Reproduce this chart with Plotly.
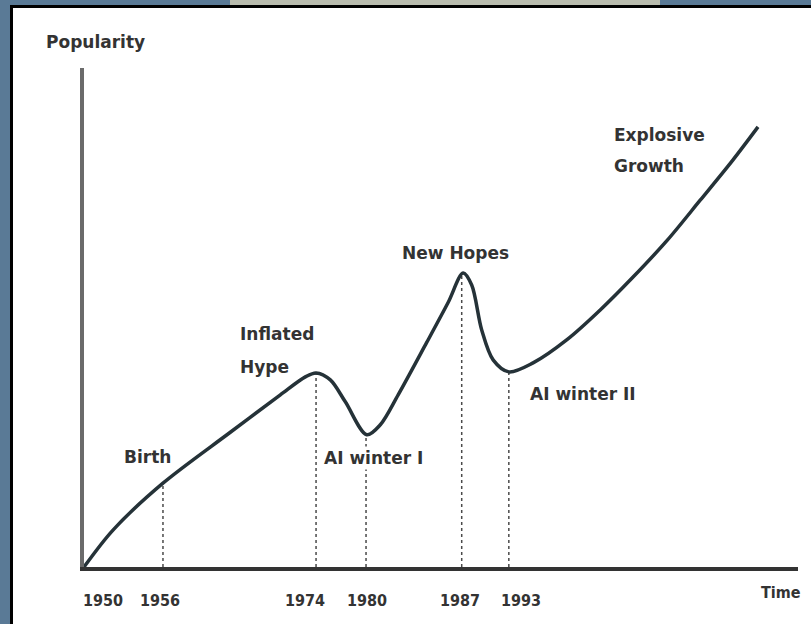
import plotly.graph_objects as go

# ---- data (conceptual time position 0-100, popularity 0-100) ----
curve_x = [0, 4.06, 11.06, 20.4, 27.5, 31.0, 32.5, 34.5, 36.6, 39.6, 41.5, 44.0,
           48.0, 51.0, 53.1, 54.3, 55.7, 57.3, 59.5, 62.9, 67.6, 72.3, 76.9, 81.7,
           86.3, 90.9, 94.4]
curve_y = [0, 7.4, 16.8, 26.9, 34.5, 38.1, 38.9, 37.5, 33.1, 26.5, 28.5, 34.5,
           45.0, 53.0, 58.9, 56.5, 47.5, 41.5, 39.1, 40.9, 45.5, 51.5, 58.1, 65.5,
           73.5, 81.6, 88.2]

event_x = [11.06, 32.5, 39.5, 52.9, 59.5]
event_y = [16.4, 38.9, 26.5, 58.9, 39.1]

year_labels = ["1950", "1956", "1974", "1980", "1987", "1993"]
year_pos = [2.66, 10.64, 30.95, 39.64, 52.66, 61.2]

phase_text = ["Birth", "Inflated", "Hype", "AI winter I", "New Hopes",
              "AI winter II", "Explosive", "Growth"]
phase_x = [8.96, 21.6, 21.6, 33.3, 44.3, 62.2, 73.9, 73.9]
phase_y = [22.0, 46.7, 40.1, 21.8, 62.9, 34.7, 86.6, 80.4]
phase_anchor = ["center", "left", "left", "left", "left", "left", "left", "left"]

LABEL_FONT = dict(family="DejaVu Sans", size=17, color="#333333", weight="bold")
NARROW_FONT = dict(family="DejaVu Sans Condensed, DejaVu Sans", size=16,
                   color="#333333", weight="bold")

fig = go.Figure()

# dotted guide lines for each event
for ex, ey in zip(event_x, event_y):
    fig.add_trace(go.Scatter(x=[ex, ex], y=[0, ey], mode="lines",
                             line=dict(color="#4a4a4a", width=1.5, dash="3px,3px"),
                             hoverinfo="skip", showlegend=False))

# main curve
fig.add_trace(go.Scatter(x=curve_x, y=curve_y, mode="lines",
                         line=dict(color="#253238", width=3.5, shape="spline", smoothing=0.9),
                         hoverinfo="skip", showlegend=False))

annotations = []
for t, x, y, a in zip(phase_text, phase_x, phase_y, phase_anchor):
    annotations.append(dict(x=x, y=y, xref="x", yref="y", text=t, showarrow=False,
                            xanchor=a, yanchor="middle", font=LABEL_FONT,
                            bgcolor="white" if t == "AI winter I" else None))
annotations.append(dict(x=(95 - 84) / 714, y=(567 - 42) / 499, xref="paper", yref="paper",
                        text="Popularity", showarrow=False, xanchor="center",
                        yanchor="middle", font=LABEL_FONT))
annotations.append(dict(x=(781 - 84) / 714, y=(567 - 592) / 499, xref="paper", yref="paper",
                        text="Time", showarrow=False, xanchor="center", yanchor="middle",
                        font=NARROW_FONT))

shapes = [
    # light patch of the blurred photo along the top strip
    dict(type="rect", xref="paper", yref="paper", x0=(230 - 84) / 714, x1=(660 - 84) / 714,
         y0=(567 - 6) / 499, y1=(567 + 5) / 499, fillcolor="#b9bcae",
         line=dict(width=0), layer="below"),
    # white board with black frame
    dict(type="rect", xref="paper", yref="paper",
         x0=(11.5 - 84) / 714, x1=(818 - 84) / 714,
         y0=(567 - 632) / 499, y1=(567 - 6.5) / 499,
         fillcolor="white", line=dict(color="black", width=3), layer="below"),
]

fig.update_layout(
    width=811, height=624,
    margin=dict(l=84, r=13, t=68, b=57),
    paper_bgcolor="#5a7a96",
    plot_bgcolor="rgba(0,0,0,0)",
    showlegend=False,
    hovermode=False,
    annotations=annotations,
    shapes=shapes,
    xaxis=dict(range=[0, 100], showgrid=False, zeroline=False, showline=True,
               linecolor="#333333", linewidth=4, ticks="",
               tickvals=year_pos, ticktext=year_labels, tickfont=NARROW_FONT,
               ticklabelstandoff=16, fixedrange=True),
    yaxis=dict(range=[0, 100], showgrid=False, zeroline=False, showline=True,
               linecolor="#6b6b6b", linewidth=4, showticklabels=False, ticks="",
               fixedrange=True),
)

fig.write_html("out.html", config={"displayModeBar": False},
               post_script="document.body.style.margin='0';document.body.style.overflow='hidden';")
